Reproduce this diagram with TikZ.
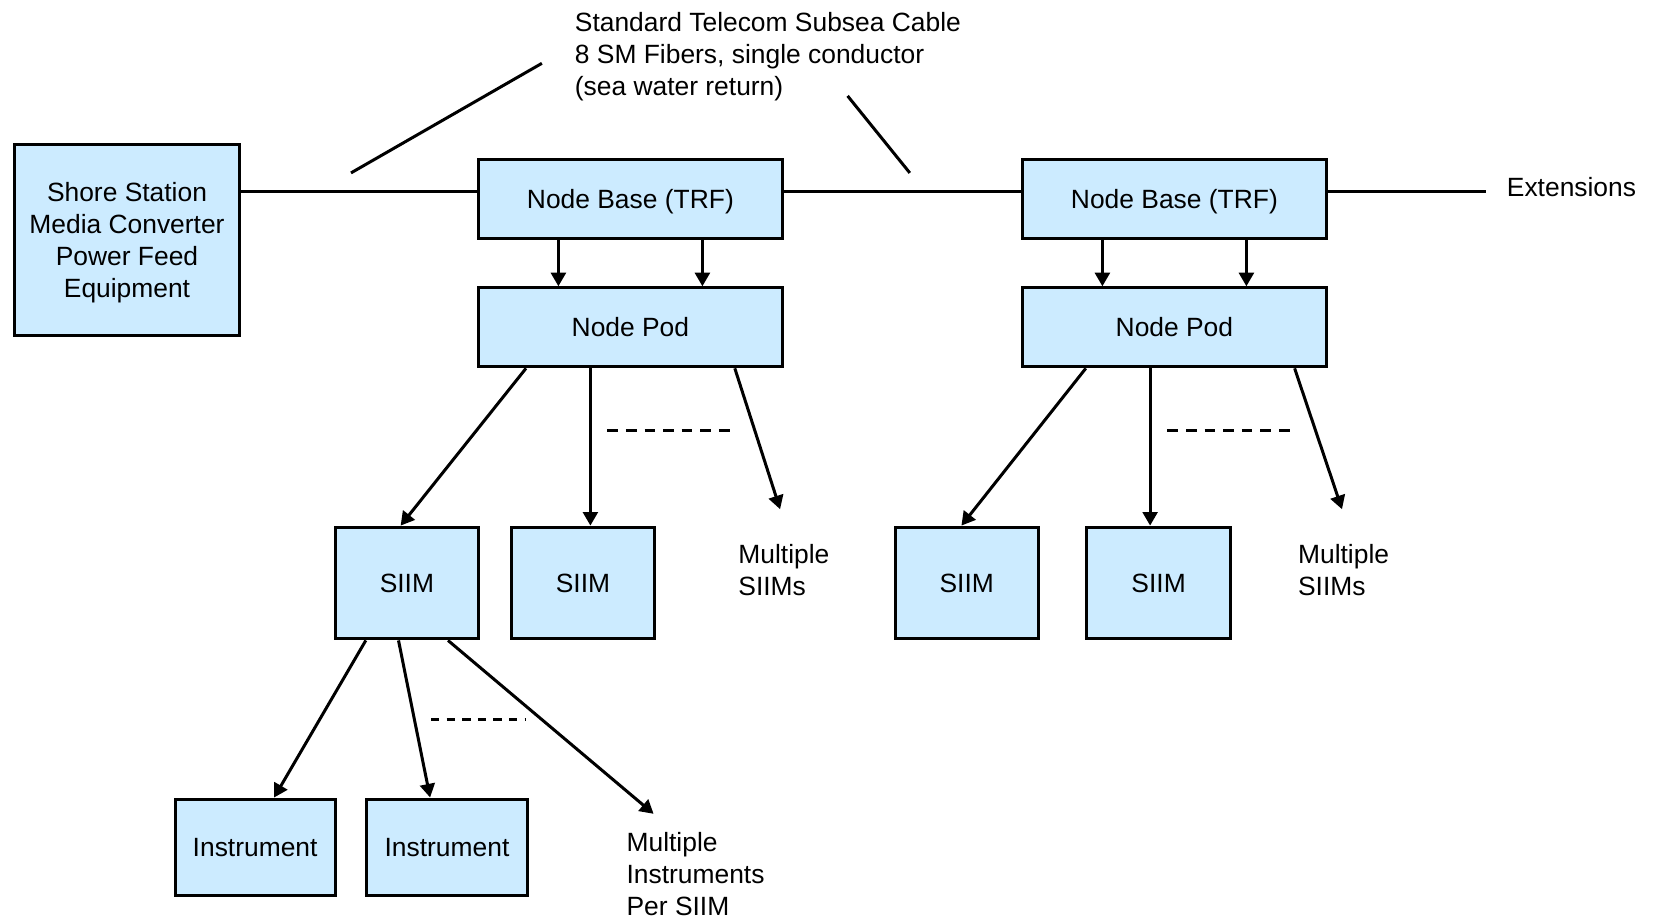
\documentclass[tikz,border=0pt]{standalone}
\usepackage{fontspec}
\setmainfont{Liberation Sans}
\usetikzlibrary{arrows.meta,calc}
\definecolor{boxfill}{RGB}{204,235,255}
\newcommand\dfont{\fontsize{13.2pt}{16pt}\selectfont}
\begin{document}
\begin{tikzpicture}[x=0.5pt,y=-0.5pt,
  box/.style={draw=black, line width=1.5pt, fill=boxfill, inner sep=0pt, align=center, font=\dfont, text depth=0pt},
  lbl/.style={inner sep=0pt, align=left, font=\dfont},
  conn/.style={line width=1.5pt, draw=black},
  arr/.style={conn, -{Triangle[length=6.8pt,width=7.4pt]}},
  dsh/.style={line width=1.5pt, dash pattern=on 5.3pt off 4pt},
  dshb/.style={line width=1.5pt, dash pattern=on 4.2pt off 3.6pt}]
\useasboundingbox (0,0) rectangle (1653,918);

% boxes
\node[box, minimum width=112.2pt, minimum height=95.9pt] (shore) at (127,240)
  {Shore Station\\Media Converter\\Power Feed\\Equipment};
\node[box, minimum width=151.8pt, minimum height=39.5pt] (nb1) at (630.4,198.7) {Node Base (TRF)};
\node[box, minimum width=151.8pt, minimum height=39.5pt] (nb2) at (1174.4,198.7) {Node Base (TRF)};
\node[box, minimum width=151.8pt, minimum height=39.5pt] (np1) at (630.4,327.3) {Node Pod};
\node[box, minimum width=151.8pt, minimum height=39.5pt] (np2) at (1174.4,327.3) {Node Pod};
\node[box, minimum width=71.7pt, minimum height=55.9pt] (siim1) at (406.9,583) {SIIM};
\node[box, minimum width=71.7pt, minimum height=55.9pt] (siim2) at (583,583) {SIIM};
\node[box, minimum width=71.7pt, minimum height=55.9pt] (siim3) at (966.7,583) {SIIM};
\node[box, minimum width=71.7pt, minimum height=55.9pt] (siim4) at (1158.6,583) {SIIM};
\node[box, minimum width=80.1pt, minimum height=48pt] (inst1) at (255.1,847) {Instrument};
\node[box, minimum width=80.1pt, minimum height=48pt] (inst2) at (447,847) {Instrument};

% labels
\node[lbl, anchor=west] (cable) at (574.5,56.3)
  {Standard Telecom Subsea Cable\\8 SM Fibers, single conductor\\(sea water return)};
\node[lbl, anchor=base west] (ext) at (1506.5,196) {Extensions};
\node[lbl, anchor=west] (ms1) at (738,570.3) {Multiple\\SIIMs};
\node[lbl, anchor=west] (ms2) at (1297.7,570.3) {Multiple\\SIIMs};
\node[lbl, anchor=west] (mi) at (626.2,873.9) {Multiple\\Instruments\\Per SIIM};

% free ends
\coordinate (cab) at (0,191.9);
\coordinate (extend) at (1486.4,191.9);
\coordinate (ms1tip) at (780.1,509.2);
\coordinate (ms2tip) at (1342,509.2);
\coordinate (mitip) at (653.6,813.8);
\coordinate (c1a) at (351,172.9);
\coordinate (c1b) at (541.9,63.3);
\coordinate (c2a) at (847.6,95.9);
\coordinate (c2b) at (909.8,172.9);

% cable
\draw[conn] (shore.east |- cab) -- (nb1.west |- cab);
\draw[conn] (nb1.east |- cab) -- (nb2.west |- cab);
\draw[conn] (nb2.east |- cab) -- (extend);
\draw[conn] (c1a) -- (c1b);
\draw[conn] (c2a) -- (c2b);

% node base -> node pod
\draw[arr] ($(nb1.south)+(-72,0)$) -- ($(np1.north)+(-72,0)$);
\draw[arr] ($(nb1.south)+(72,0)$) -- ($(np1.north)+(72,0)$);
\draw[arr] ($(nb2.south)+(-72,0)$) -- ($(np2.north)+(-72,0)$);
\draw[arr] ($(nb2.south)+(72,0)$) -- ($(np2.north)+(72,0)$);

% node pod -> SIIMs
\draw[arr] ($(np1.south)+(-104.4,0)$) -- ($(siim1.north)+(-6.3,0)$);
\draw[arr] ($(np1.south)+(-40,0)$) -- ($(siim2.north)+(7.4,0)$);
\draw[arr] ($(np1.south)+(104.4,0)$) -- (ms1tip);
\draw[arr] ($(np2.south)+(-88.6,0)$) -- ($(siim3.north)+(-5.3,0)$);
\draw[arr] ($(np2.south)+(-24.3,0)$) -- ($(siim4.north)+(-8.5,0)$);
\draw[arr] ($(np2.south)+(120.2,0)$) -- (ms2tip);
\draw[dsh] (607.3,430.1) -- (729.5,430.1);
\draw[dsh] (1167.4,430.1) -- (1289.6,430.1);

% SIIM -> instruments
\draw[arr] ($(siim1.south)+(-41.1,0)$) -- ($(inst1.north)+(19,0)$);
\draw[arr] ($(siim1.south)+(-8.4,0)$) -- ($(inst2.north)+(-16.9,0)$);
\draw[arr] ($(siim1.south)+(41.1,0)$) -- (mitip);
\draw[dshb] (431,719) -- (526,719);
\end{tikzpicture}
\end{document}
